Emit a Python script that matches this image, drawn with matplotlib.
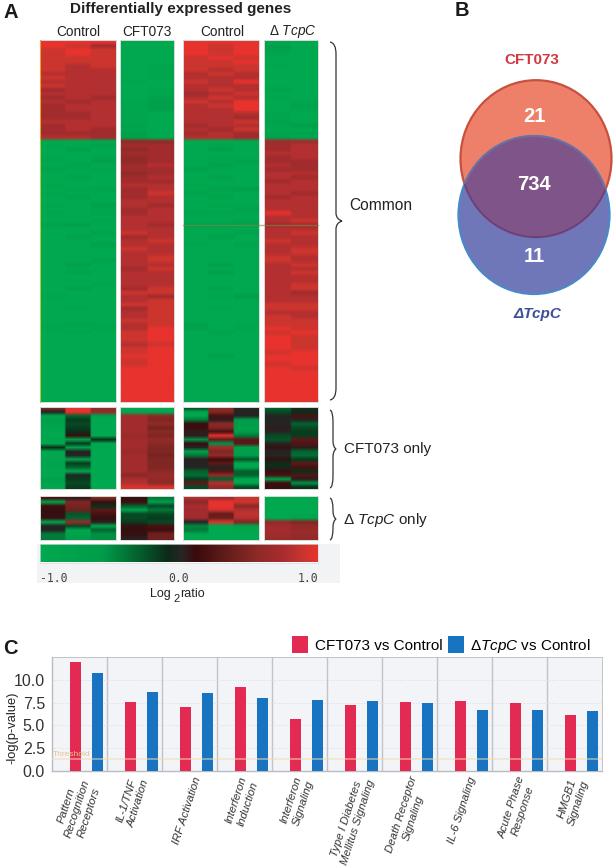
import numpy as np
import matplotlib
matplotlib.use("Agg")
import matplotlib.pyplot as plt
from matplotlib.colors import LinearSegmentedColormap
from matplotlib.patches import Ellipse, PathPatch
from matplotlib.path import Path

plt.rcParams['font.family'] = ['Liberation Sans', 'DejaVu Sans']
plt.rcParams['mathtext.fontset'] = 'custom'
plt.rcParams['mathtext.rm'] = 'Liberation Sans'
plt.rcParams['mathtext.it'] = 'Liberation Sans:italic'
plt.rcParams['mathtext.bf'] = 'Liberation Sans:bold'
plt.rcParams['mathtext.default'] = 'regular'

W, H = 615, 867

# ---- heat map data: one row per string, one digit per sample, tenths of log2 ratio (A = 1.0)
# sample order: Control x3, CFT073 x2, Control x3, dTcpC x2
common_up = [
 "AAAAAAAAAA","A97AAA9A7A","9A9AAA9A8A","9A9AAA9A9A","999AA9A9AA","999AA99AAA","989A99999A","988A9989AA",
 "888A9898AA","988A9888AA","8889A98AAA","988AA888AA","788A98988A","888A9789AA","787A88989A","8789798AA9",
 "7889789AA8","7889788AA9","7789A8889A","7789A8879A","8889A8898A","7888A78897","7879A8799A","7777A78798","8877A88779",
]
common_down = [
 "AAA66AAA77","9A877A9A78","A7A67A7A78","AAA77AAA88","9A967A9A78","9A767A9877","A8A78A8A87","8A9777AA77",
 "AAA67AAA88","A8A78A8A87","AAA77AAA78","9AA889AA88","A9878A8788","9AA798AA87","A8A78A8A78","AAA88AAA88",
 "9A787A9988","AA978AA888","9A978899A8","AAA88AAA88","AA988AA989","87A8777777","AAA88AAA88","AA898AA889",
 "A8A78A7A88","AAA89AAA98","AA7889A888","AAA98AAA89","AAA88AAA89","AAA89AAA98","AA889AAA98","A7A88A7A89",
 "AAA79AAA88","A8A88A7A89","AAA88AAA88","AAA88AAA88","AA988AAA89","A8A79A8A89","AAA99AAA87","9AA87A9688",
 "AAA89AAA88","AAA99AAA99","A9A79A9A99","AAA89AAA88","AAA89AAA98","AAA99AAA99","989898A999","9A98A8A9A9",
 "A9A9AA8A9A","AAA9AAAAA9","AAA9AAAAA9","AAA89AAAA9","AAA9AAAAA9","AAA9AAAA9A","AAAAAA7AAA","AAA9AAAAAA",
 "AAA9AAAA9A","AAAAAAAAA9","AAAAAAAAAA","AAAAAAAAAA","AAAAAAAAAA","AAAAAAAAAA","AAAAAAAAAA","AAAAAAAAAA",
 "AAAAAAAAAA","AAAAAAAAAA",
]
cft_only = [
 [ .5, 1.0, .6,-.95,-1.0,-.2, .55, .0,-.3, .0],
 [ .0, 1.0, .6,-.95,-1.0,-.9, .5, .0,-.2,-.1],
 [-.9,-.3,-.8, .7, .55,-.95, .2, .0, .0, .2],
 [-.7,-.15,-1.0, .7, .5,-.4, .05,-.6, .0, .0],
 [-.75,-.2,-1.0, .7, .6, .1, .55,-.6, .0,-.3],
 [-.8,-.15,-1.0, .7, .45, .15, .5,-.7, .05,-.2],
 [-.95,-.1,-1.0, .7, .55, .05, .2,-.6, .0,-.15],
 [-.95, .1,-1.0, .65, .5, .05, .95,-.4,-.2,-.15],
 [-.9,-.7,-.1, .7, .6,-.5, .35, .3,-.25, .3],
 [-.95,-.15,-.95, .7, .55, .1,-.5, .3, .0, .25],
 [-.1,-.8,-1.0, .7, .5, .0, .7,-.7, .1, .05],
 [-.95, .0,-1.0, .65, .5,-.7, .5,-.7, .0,-.3],
 [-.95, .0,-1.0, .7, .45,-.4, .6,-.6, .0,-.35],
 [-.95,-.75,-1.0, .7, .5, .05, .15,-.25, .1,-.15],
 [-.8,-.15,-1.0, .7, .5, .0, .3,-.95,-.1, .3],
 [-.9,-.3,-1.0, .7, .5, .0, .0,-.95,-.05, .2],
 [-.95,-.95,-1.0, .7, .55,-.3, .25,-.3, .1,-.1],
 [-.95, .0,-1.0, .55, .65,-.35, .6,-.3, .2, .25],
 [-.7,-.15,-1.0, .75, .6,-.15,-.3,-.95,-.7, .05],
 [-.85,-.2,-1.0, .8, .55, .3, .8,-.9, .15,-.5],
 [-.95,-.15,-1.0, .95, .95,-.2, .6,-.2, .1,-.1],
]
tcpc_only = [
 [ .2, .05, .5, .1,-.4, .8, .7, .9,-1.0,-1.0],
 [-.8, .5, .1, .15,-.6, .55, 1.0, .9,-1.0,-1.0],
 [ .15, .45,-.1,-.3,-.2, .75, 1.0, .55,-1.0,-1.0],
 [ .1, .4, .3,-.85,-.4, .7, .9, .8,-1.0,-1.0],
 [ .1,-.25, .2,-.2,-.2, .7, .35, .85,-1.0,-.95],
 [ .1,-.3, .1,-.2,-.15, .7, .4, .8,-1.0,-.85],
 [-.9, .65, .05,-.15,-.2, .0, .95, .5, .6, .5],
 [ .0,-.2,-.9, .1, .2,-.45,-1.0,-.8, .7, .6],
 [ .0,-.9,-.3, .1, .15,-.4,-1.0,-.9, .7, .65],
 [-.4,-.8,-.5, .1, .4,-.9,-1.0,-1.0, .7, .65],
 [-.4,-.6,-.5, .05, .4,-1.0,-1.0,-1.0, .65, .6],
]
common_up_signs = [1, 1, 1, -1, -1, 1, 1, 1, -1, -1]
common_down_signs = [-1, -1, -1, 1, 1, -1, -1, -1, 1, 1]

cmap_levels = [-1.0, -0.55, -0.3, -0.08, 0.02, 0.12, 0.3, 0.55, 0.75, 0.88, 1.0]
cmap_colors = ['#00a94f', '#009c4a', '#04632f', '#0c2a18', '#2a2526', '#3a0a0c', '#5a1a18', '#8a2a26', '#a92c30', '#c6352f', '#e8322e']
cbar_ticks = [-1.0, 0.0, 1.0]

# ---- bar chart data
pathways = ["Pattern\nRecognition\nReceptors", "IL-1/TNF\nActivation", "IRF Activation",
            "Interferon\nInduction", "Interferon\nSignaling", "Type I Diabetes\nMellitus Signaling",
            "Death Receptor\nSignaling", "IL-6 Signaling", "Acute Phase\nResponse", "HMGB1\nSignaling"]
cft073_vs_control = [11.9, 7.6, 7.0, 9.2, 5.7, 7.2, 7.6, 7.7, 7.5, 6.1]
tcpc_vs_control = [10.8, 8.7, 8.5, 8.0, 7.8, 7.7, 7.5, 6.7, 6.7, 6.6]
threshold = 1.3
y_ticks = [0.0, 2.5, 5.0, 7.5, 10.0]

# ---- venn counts
venn_counts = {"CFT073": 21, "both": 734, "dTcpC": 11}

fig = plt.figure(figsize=(W / 100, H / 100), dpi=100, facecolor='white')


def px_axes(x0, y0, x1, y1, **kw):
    return fig.add_axes([x0 / W, 1 - y1 / H, (x1 - x0) / W, (y1 - y0) / H], **kw)


ov = fig.add_axes([0, 0, 1, 1], zorder=5)
ov.set_xlim(0, W)
ov.set_ylim(H, 0)
ov.axis('off')
ov.patch.set_alpha(0)

cmap = LinearSegmentedColormap.from_list(
    'rg', [((l + 1) / 2, c) for l, c in zip(cmap_levels, cmap_colors)], N=512)


def decode(rows, signs):
    return [[(1.0 if ch == 'A' else int(ch) / 10) * s for ch, s in zip(r, signs)] for r in rows]


common = np.array(decode(common_up, common_up_signs) + decode(common_down, common_down_signs))
blocks = [(common, 40, 402), (np.array(cft_only), 407, 489), (np.array(tcpc_only), 496, 540)]
col_groups = [(40, 116, 0, 3), (120, 174, 3, 5), (183, 259, 5, 8), (264, 318, 8, 10)]

for data, y0, y1 in blocks:
    for x0, x1, c0, c1 in col_groups:
        a = px_axes(x0, y0, x1, y1)
        a.imshow(np.repeat(data[:, c0:c1], 12, axis=1), aspect='auto', cmap=cmap, vmin=-1, vmax=1,
                 interpolation='bilinear')
        a.set_xticks([])
        a.set_yticks([])
        for s in a.spines.values():
            s.set_edgecolor('#d8dcd8')
            s.set_linewidth(0.7)

ov.plot([40.3, 40.3], [40, 140], color='#e8a030', lw=0.8)
ov.plot([40.3, 40.3], [140, 402], color='#a8d040', lw=0.8)
ov.plot([183, 318], [225, 225], color='#7f8a4a', lw=1.0, alpha=0.6)

bg = px_axes(37, 544, 340, 583)
bg.set_facecolor('#f2f3f5')
bg.set_xticks([])
bg.set_yticks([])
for s in bg.spines.values():
    s.set_visible(False)
cax = px_axes(40, 544, 318, 562.5)
cax.imshow(np.linspace(-1, 1, 512)[None, :], aspect='auto', cmap=cmap, vmin=-1, vmax=1,
           extent=[-1, 1, 0, 1])
cax.set_xticks([])
cax.set_yticks([])
for s in cax.spines.values():
    s.set_edgecolor('#d8dcd8')
    s.set_linewidth(0.5)
for t, x, ha in zip(cbar_ticks, [40, 179, 318], ['left', 'center', 'right']):
    ov.text(x, 578.5, f"{t:.1f}", family='DejaVu Sans Mono', fontsize=8.3,
            color='#444444', ha=ha, va='center')
ov.text(150, 594, "Log", fontsize=9, color='#222222', va='center')
ov.text(173, 598.5, "2", fontsize=8, color='#222222', va='center')
ov.text(180, 594, "ratio", fontsize=9, color='#222222', va='center')

ov.text(3, 12, "A", fontsize=14.5, fontweight='bold', color='#1a1a1a', va='center')
ov.text(181, 9.5, "Differentially expressed genes", fontsize=11, fontweight='bold', color='#222222',
        ha='center', va='center')
for txt, x in [("Control", 78), ("CFT073", 147), ("Control", 222)]:
    ov.text(x, 31.5, txt, fontsize=9.8, color='#222222', ha='center', va='center')
ov.text(292.5, 31.5, r"$\Delta$ $\mathit{TcpC}$", fontsize=9.8, color='#222222', ha='center', va='center')


def brace(x, y0, y1, w, lw=0.9):
    ym = (y0 + y1) / 2
    xm = x + w * 0.5
    xt = x + w
    verts = [(x, y0), (xm, y0 + 1), (xm, y0 + 12),
             (xm, ym - 8), (xm, ym - 2), (xt, ym),
             (xm, ym + 2), (xm, ym + 8),
             (xm, y1 - 12), (xm, y1 - 1), (x, y1)]
    codes = [Path.MOVETO, Path.CURVE3, Path.CURVE3, Path.LINETO, Path.CURVE3, Path.CURVE3,
             Path.CURVE3, Path.CURVE3, Path.LINETO, Path.CURVE3, Path.CURVE3]
    ov.add_patch(PathPatch(Path(verts, codes), fc='none', ec='#333333', lw=lw))


brace(330, 42, 400, 12)
brace(330, 410, 488, 6)
brace(330, 498, 540, 6)
ov.text(349, 206, "Common", fontsize=11.2, color='#222222', va='center')
ov.text(344, 449, "CFT073 only", fontsize=11, color='#222222', va='center')
ov.text(343, 520, r"$\Delta$ $\mathit{TcpC}$ only", fontsize=11, color='#222222', va='center')

ov.text(455, 10.5, "B", fontsize=14.5, fontweight='bold', color='#1a1a1a', va='center')
RED_C, BLUE_C, VW, VH_R, VH_B = (536, 158.7), (534, 215), 151, 157, 158
ov.add_patch(Ellipse(RED_C, VW, VH_R, fc='#ee8069', ec='#c8503f', lw=1.6))
ov.add_patch(Ellipse(BLUE_C, VW, VH_B, fc='#7077b8', ec='#4a88c6', lw=1.6))
mid = Ellipse(BLUE_C, VW, VH_B, fc='#7f5488', ec='#6f6f9f', lw=1.4)
ov.add_patch(mid)
mid.set_clip_path(Ellipse(RED_C, VW, VH_R, transform=ov.transData))
rim = Ellipse(RED_C, VW, VH_R, fc='none', ec='#6f3f78', lw=1.4)
ov.add_patch(rim)
rim.set_clip_path(Ellipse(BLUE_C, VW, VH_B, transform=ov.transData))
ov.text(532, 60.5, "CFT073", fontsize=11, fontweight='bold', color='#d2383f', ha='center', va='center')
ov.text(537, 314, "ΔTcpC", fontsize=11, fontweight='bold', style='italic', color='#3c4f9c', ha='center', va='center')
for key, y in [("CFT073", 117), ("both", 185), ("dTcpC", 257)]:
    ov.text(534, y, str(venn_counts[key]), fontsize=14.5, fontweight='bold', color='white', ha='center', va='center')

ov.text(3, 648, "C", fontsize=14.5, fontweight='bold', color='#1a1a1a', va='center')
ax = px_axes(52, 657, 602, 771)
ax.set_facecolor('#f3f4f8')
x = np.arange(len(pathways))
ax.bar(x + 0.427, cft073_vs_control, width=0.2, color='#e32a52', label='CFT073 vs Control', zorder=3)
ax.bar(x + 0.827, tcpc_vs_control, width=0.2, color='#1874c0', label=r'$\Delta\mathit{TcpC}$ vs Control', zorder=3)
ax.set_xlim(0, len(pathways))
ax.set_ylim(0, 12.5)
ax.set_yticks(y_ticks)
ax.set_yticklabels([f"{v:.1f}" for v in y_ticks], fontsize=11.5, color='#333333')
ax.tick_params(axis='y', length=0, pad=5)
ax.set_xticks(np.arange(1, len(pathways)))
ax.set_xticklabels([])
ax.tick_params(axis='x', length=0)
ax.xaxis.grid(True, color='#c0c3c8', lw=1, zorder=1)
ax.yaxis.grid(True, color='#dcdde0', lw=0.7, ls=':', zorder=1)
ax.set_axisbelow(True)
ax.axhline(threshold, color='#f0dcb0', lw=1.3, alpha=0.55, zorder=4)
ax.text(0.01, threshold + 0.15, "Threshold", color='#e6c48c', fontsize=6, va='bottom', zorder=5)
ov.text(12, 728, "-log(p-value)", fontsize=9.3, color='#222222', rotation=90, ha='center', va='center')
for name, s in ax.spines.items():
    s.set_color('#b8bbc0')
    s.set_linewidth(1.0 if name in ('left', 'bottom') else 0.6)
for i, lab in enumerate(pathways):
    ax.annotate(lab, xy=(i + 0.5, 0), xycoords='data', xytext=(-1.5, -3), textcoords='offset points',
                rotation=72, ha='center', va='top', fontsize=8.2, style='italic', color='#333333',
                linespacing=1.25, multialignment='center')
ax.legend(loc='lower right', bbox_to_anchor=(0.98, 1.02), ncol=2, frameon=False, fontsize=11,
          handlelength=1.05, handleheight=1.35, handletextpad=0.4, columnspacing=0.4, borderaxespad=0, borderpad=0)

fig.savefig("out.png", dpi=100)
